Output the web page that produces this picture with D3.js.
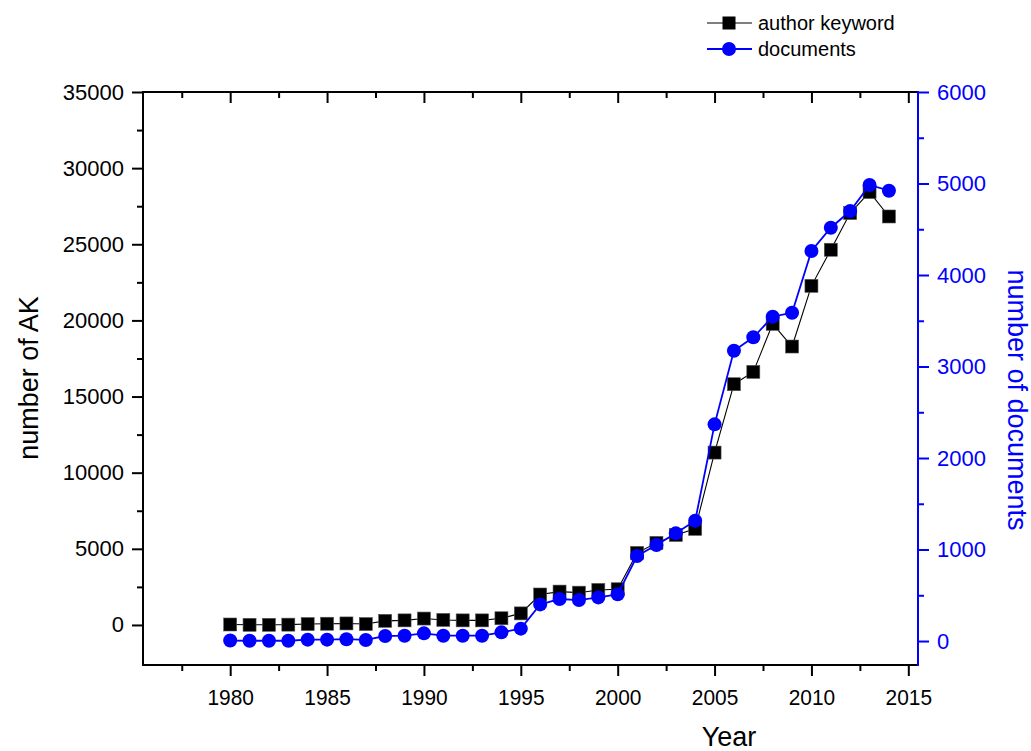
<!DOCTYPE html>
<html>
<head>
<meta charset="utf-8">
<script src="https://cdn.jsdelivr.net/npm/d3@7"></script>
<style>
  body { margin: 0; background: #fff; }
  svg { font-family: "Liberation Sans", Arial, sans-serif; }
</style>
</head>
<body>
<svg width="1031" height="751"></svg>
<script>
// data
const years = [1980, 1981, 1982, 1983, 1984, 1985, 1986, 1987, 1988, 1989,
               1990, 1991, 1992, 1993, 1994, 1995, 1996, 1997, 1998, 1999,
               2000, 2001, 2002, 2003, 2004, 2005, 2006, 2007, 2008, 2009,
               2010, 2011, 2012, 2013, 2014];
const authorKeyword = [30, 10, 10, 20, 60, 80, 100, 60, 270, 300,
                       420, 330, 300, 300, 440, 760, 2000, 2190, 2120, 2300,
                       2345, 4730, 5390, 5910, 6310, 11320, 15810, 16620, 19775, 18285,
                       22270, 24640, 27050, 28430, 26825];
const documents = [5, 3, 3, 3, 15, 15, 20, 12, 55, 58,
                   84, 58, 58, 58, 95, 135, 400, 459, 448, 477,
                   510, 929, 1049, 1177, 1315, 2368, 3173, 3319, 3544, 3588,
                   4262, 4517, 4699, 4984, 4921];

const xMajor = [1980, 1985, 1990, 1995, 2000, 2005, 2010, 2015];
const xMinor = [1977.5, 1982.5, 1987.5, 1992.5, 1997.5, 2002.5, 2007.5, 2012.5];
const akMajor = [0, 5000, 10000, 15000, 20000, 25000, 30000, 35000];
const akMinor = [2500, 7500, 12500, 17500, 22500, 27500, 32500];
const docMajor = [0, 1000, 2000, 3000, 4000, 5000, 6000];
const docMinor = [500, 1500, 2500, 3500, 4500, 5500];

const BLUE = '#0000ff';

// Plot frame
const plotLeft = 143, plotRight = 918, plotTop = 92, plotBottom = 665;

const svg = d3.select('svg');

const x = d3.scaleLinear().domain([1975.5, 2015.5]).range([plotLeft, plotRight]);
const yL = d3.scaleLinear().domain([-2630, 35000]).range([plotBottom, plotTop]);
const yR = d3.scaleLinear().domain([-262, 6000]).range([plotBottom, plotTop]);

// Axes (ticks drawn with d3 axes, frame lines drawn separately)
function styleAxis(g, color, fontSize) {
    g.select('.domain').remove();
    g.selectAll('line').attr('stroke', color).attr('stroke-width', 2);
    g.selectAll('text').attr('fill', color).style('font-size', fontSize + 'px');
}

// bottom
svg.append('g')
    .attr('transform', `translate(0,${plotBottom})`)
    .call(d3.axisBottom(x).tickValues(xMajor).tickSize(11).tickPadding(13).tickFormat(d3.format('d')))
    .call(g => styleAxis(g, '#000', 22))
    .call(g => g.selectAll('text').attr('transform', 'scale(0.95,1)'));
svg.append('g')
    .attr('transform', `translate(0,${plotBottom})`)
    .call(d3.axisBottom(x).tickValues(xMinor).tickSize(6).tickFormat(''))
    .call(g => styleAxis(g, '#000', 22));

// top (inward ticks)
svg.append('g')
    .attr('transform', `translate(0,${plotTop})`)
    .call(d3.axisBottom(x).tickValues(xMajor).tickSize(11).tickFormat(''))
    .call(g => styleAxis(g, '#000', 22));
svg.append('g')
    .attr('transform', `translate(0,${plotTop})`)
    .call(d3.axisBottom(x).tickValues(xMinor).tickSize(6).tickFormat(''))
    .call(g => styleAxis(g, '#000', 22));

// left
svg.append('g')
    .attr('transform', `translate(${plotLeft},0)`)
    .call(d3.axisLeft(yL).tickValues(akMajor).tickSize(11).tickPadding(8).tickFormat(d3.format('d')))
    .call(g => styleAxis(g, '#000', 22));
svg.append('g')
    .attr('transform', `translate(${plotLeft},0)`)
    .call(d3.axisLeft(yL).tickValues(akMinor).tickSize(6).tickFormat(''))
    .call(g => styleAxis(g, '#000', 22));

// right (blue)
svg.append('g')
    .attr('transform', `translate(${plotRight},0)`)
    .call(d3.axisRight(yR).tickValues(docMajor).tickSize(11).tickPadding(8).tickFormat(d3.format('d')))
    .call(g => styleAxis(g, BLUE, 22));
svg.append('g')
    .attr('transform', `translate(${plotRight},0)`)
    .call(d3.axisRight(yR).tickValues(docMinor).tickSize(6).tickFormat(''))
    .call(g => styleAxis(g, BLUE, 22));

// frame lines
svg.append('line').attr('x1', plotLeft).attr('x2', plotRight).attr('y1', plotTop).attr('y2', plotTop)
    .attr('stroke', '#000').attr('stroke-width', 2);
svg.append('line').attr('x1', plotLeft).attr('x2', plotRight).attr('y1', plotBottom).attr('y2', plotBottom)
    .attr('stroke', '#000').attr('stroke-width', 2);
svg.append('line').attr('x1', plotLeft).attr('x2', plotLeft).attr('y1', plotTop - 1).attr('y2', plotBottom + 1)
    .attr('stroke', '#000').attr('stroke-width', 2);
svg.append('line').attr('x1', plotRight).attr('x2', plotRight).attr('y1', plotTop - 1).attr('y2', plotBottom + 1)
    .attr('stroke', BLUE).attr('stroke-width', 2);

// axis titles
svg.append('text')
    .attr('transform', `translate(38,378) rotate(-90)`)
    .attr('text-anchor', 'middle')
    .style('font-size', '27px')
    .text('number of AK');
svg.append('text')
    .attr('transform', `translate(1008,400) rotate(90)`)
    .attr('text-anchor', 'middle')
    .attr('fill', BLUE)
    .style('font-size', '27px')
    .text('number of documents');
svg.append('text')
    .attr('x', 729).attr('y', 746)
    .attr('text-anchor', 'middle')
    .style('font-size', '27px')
    .text('Year');

// series
const akPts = years.map((yr, i) => [yr, authorKeyword[i]]);
const docPts = years.map((yr, i) => [yr, documents[i]]);

svg.append('path')
    .datum(akPts)
    .attr('fill', 'none')
    .attr('stroke', '#000')
    .attr('stroke-width', 1.1)
    .attr('d', d3.line().x(d => x(d[0])).y(d => yL(d[1])));

svg.append('g')
    .selectAll('rect')
    .data(akPts)
    .enter().append('rect')
    .attr('x', d => x(d[0]) - 6.5)
    .attr('y', d => yL(d[1]) - 6.5)
    .attr('width', 13)
    .attr('height', 13)
    .attr('fill', '#000')
    .attr('stroke', '#555')
    .attr('stroke-width', 0.6);

svg.append('path')
    .datum(docPts)
    .attr('fill', 'none')
    .attr('stroke', BLUE)
    .attr('stroke-width', 1.8)
    .attr('d', d3.line().x(d => x(d[0])).y(d => yR(d[1])));

svg.append('g')
    .selectAll('circle')
    .data(docPts)
    .enter().append('circle')
    .attr('cx', d => x(d[0]))
    .attr('cy', d => yR(d[1]))
    .attr('r', 7)
    .attr('fill', BLUE);

// legend
const legend = svg.append('g');
legend.append('line').attr('x1', 707).attr('x2', 752).attr('y1', 23).attr('y2', 23)
    .attr('stroke', '#000').attr('stroke-width', 1.1);
legend.append('rect').attr('x', 722.5).attr('y', 16.5).attr('width', 13).attr('height', 13)
    .attr('fill', '#000');
legend.append('text').attr('x', 758).attr('y', 30).style('font-size', '20px').text('author keyword');

legend.append('line').attr('x1', 707).attr('x2', 752).attr('y1', 49).attr('y2', 49)
    .attr('stroke', BLUE).attr('stroke-width', 1.8);
legend.append('circle').attr('cx', 729).attr('cy', 49).attr('r', 7).attr('fill', BLUE);
legend.append('text').attr('x', 758).attr('y', 56).style('font-size', '20px').text('documents');
</script>
</body>
</html>
